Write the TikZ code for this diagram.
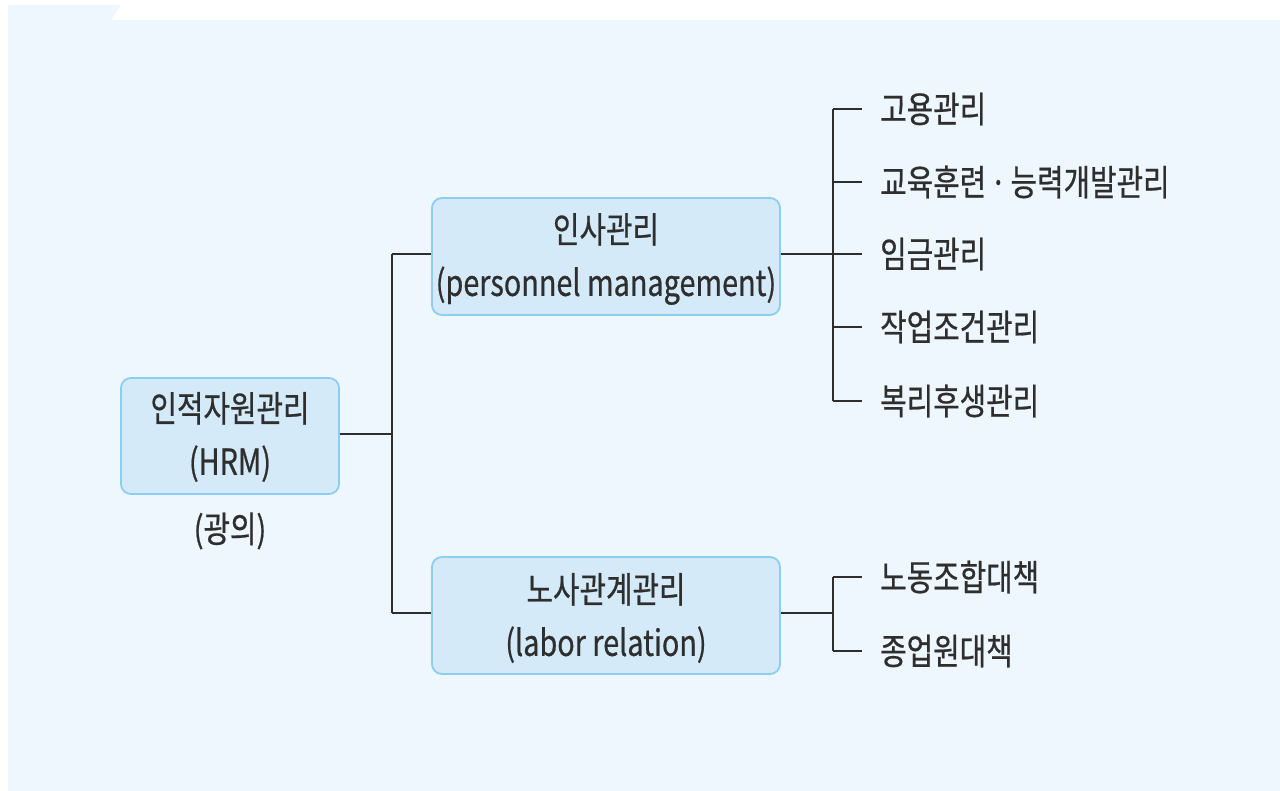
\documentclass[tikz,border=0pt]{standalone}
\usepackage{fontspec}
\newfontfamily\kr[FakeStretch=0.8,FakeBold=0.6]{Noto Sans CJK KR}
\definecolor{bgc}{HTML}{EEF6FE}
\definecolor{boxfill}{HTML}{D5EAF8}
\definecolor{boxline}{HTML}{8DCDF0}
\definecolor{txt}{HTML}{2E2E2E}
\begin{document}
\begin{tikzpicture}[x=1pt,y=-1pt,
  mainbox/.style={draw=boxline,fill=boxfill,line width=1.8pt,rounded corners=10pt,inner sep=0pt},
  lbl/.style={font=\kr\fontsize{36}{53}\selectfont,text=txt,align=center,inner sep=0pt},
  leaf/.style={font=\kr\fontsize{36}{53}\selectfont,text=txt,anchor=west,inner sep=0pt},
  conn/.style={draw=txt,line width=1.9pt}]
\useasboundingbox (0,0) rectangle (1280,791);
\fill[white] (0,0) rectangle (1280,791);
\fill[bgc] (8,5) -- (120.5,5) -- (111.5,20) -- (1280,20) -- (1280,791) -- (8,791) -- cycle;
% boxes
\node[mainbox,minimum width=218pt,minimum height=116pt] (hrm) at (230,436) {};
\node[lbl] at (230,437) {인적자원관리\\(HRM)};
\node[lbl] (wide) at (230,531) {(광의)};
\node[mainbox,minimum width=348pt,minimum height=117pt] (ps) at (606,256.5) {};
\node[lbl] at (606,259) {인사관리\\(personnel management)};
\node[mainbox,minimum width=348pt,minimum height=117pt] (lr) at (606,615.5) {};
\node[lbl] at (606,618) {노사관계관리\\(labor relation)};
% leaves
\node[leaf] (a1) at (880,109) {고용관리};
\node[leaf] (a2) at (880,182) {교육훈련$\,$·$\,$능력개발관리};
\node[leaf] (a3) at (880,254) {임금관리};
\node[leaf] (a4) at (880,327) {작업조건관리};
\node[leaf] (a5) at (880,401) {복리후생관리};
\node[leaf] (b1) at (880,577) {노동조합대책};
\node[leaf] (b2) at (880,651) {종업원대책};
% connectors
\coordinate (j1) at (392,434);
\draw[conn] (hrm.east |- j1) -- (j1);
\draw[conn] (392,254) -- (392,613);
\draw[conn] (392,254) -- (ps.west |- 0,254);
\draw[conn] (392,613) -- (lr.west |- 0,613);
\draw[conn] (ps.east |- 0,254) -- (862,254);
\draw[conn] (833,109) -- (833,401);
\foreach \n/\y in {a1/109,a2/182,a4/327,a5/401} \draw[conn] (833,\y) -- (862,\y);
\draw[conn] (lr.east |- 0,613) -- (833,613);
\draw[conn] (833,577) -- (833,651);
\foreach \n/\y in {b1/577,b2/651} \draw[conn] (833,\y) -- (862,\y);
\end{tikzpicture}
\end{document}
